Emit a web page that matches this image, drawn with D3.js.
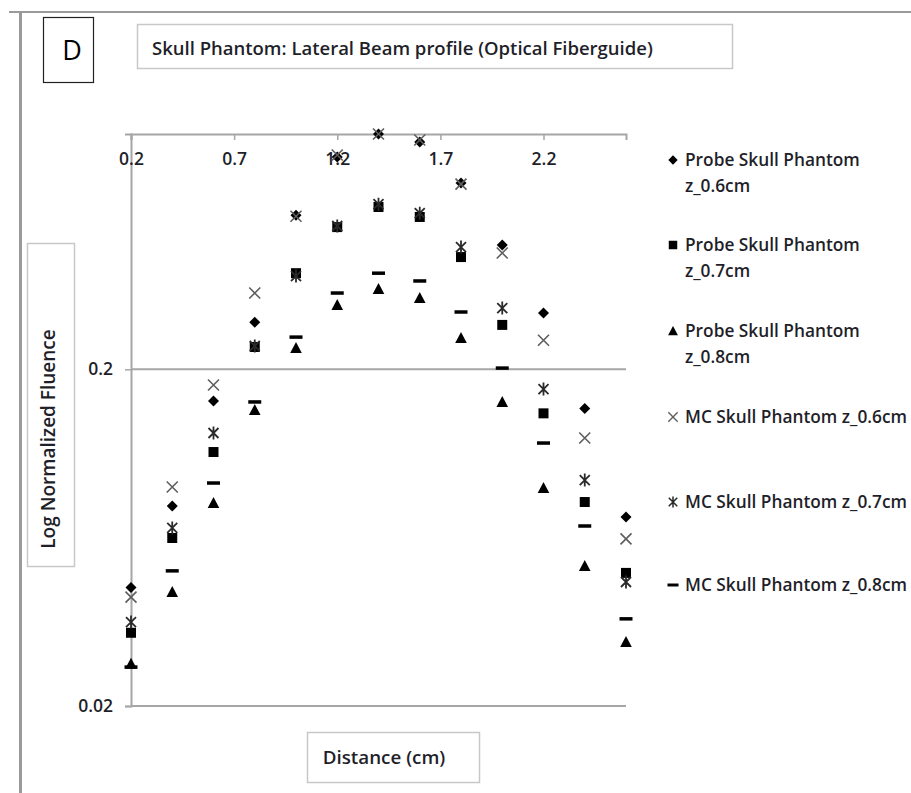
<!DOCTYPE html>
<html>
<head>
<meta charset="utf-8">
<script src="https://cdn.jsdelivr.net/npm/d3@7"></script>
<style>
  body { margin: 0; background: #fff; }
  text { font-family: "Open Sans", sans-serif; fill: #1f1f2a; }
</style>
</head>
<body>
<script>
// distances (cm)
const distance = [0.2, 0.4, 0.6, 0.8, 1.0, 1.2, 1.4, 1.6, 1.8, 2.0, 2.2, 2.4, 2.6];

// normalized fluence
const probe06 = [0.045, 0.0785, 0.161, 0.276, 0.574, 0.854, 1.0, 0.946, 0.715, 0.468, 0.294, 0.153, 0.0728];
const probe07 = [0.033, 0.0631, 0.1136, 0.233, 0.386, 0.529, 0.607, 0.567, 0.431, 0.271, 0.148, 0.0807, 0.0497];
const probe08 = [0.0267, 0.0436, 0.0801, 0.1514, 0.2313, 0.3105, 0.3463, 0.3257, 0.2477, 0.16, 0.0888, 0.0521, 0.031];
const mc06 = [0.0421, 0.0894, 0.1797, 0.337, 0.57, 0.866, 1.0, 0.96, 0.71, 0.443, 0.244, 0.125, 0.0627];
const mc07 = [0.0355, 0.0676, 0.1294, 0.2346, 0.3786, 0.533, 0.619, 0.582, 0.4615, 0.304, 0.1748, 0.0938, 0.0467];
const mc08 = [0.0261, 0.0504, 0.0919, 0.16, 0.2493, 0.337, 0.386, 0.366, 0.296, 0.2017, 0.1208, 0.0685, 0.0363];

const xTicks = [0.2, 0.7, 1.2, 1.7, 2.2];
const yTicks = [0.02, 0.2];

const seriesNames = [
  ["Probe Skull Phantom", "z_0.6cm"],
  ["Probe Skull Phantom", "z_0.7cm"],
  ["Probe Skull Phantom", "z_0.8cm"],
  ["MC Skull Phantom z_0.6cm"],
  ["MC Skull Phantom z_0.7cm"],
  ["MC Skull Phantom z_0.8cm"]
];
const seriesValues = [probe06, probe07, probe08, mc06, mc07, mc08];
const markerKind = ["diamond", "square", "triangle", "x", "star", "dash"];

const W = 911, H = 793;
const svg = d3.select("body").append("svg")
    .attr("width", W)
    .attr("height", H);

// outer frame bits (top and left border of the figure)
svg.append("line").attr("x1", 9).attr("x2", W).attr("y1", 12).attr("y2", 12)
    .attr("stroke", "#9a9a9a").attr("stroke-width", 2);
svg.append("line").attr("x1", 20.5).attr("x2", 20.5).attr("y1", 11).attr("y2", H)
    .attr("stroke", "#9a9a9a").attr("stroke-width", 3);

// panel letter
svg.append("rect").attr("x", 43.5).attr("y", 17.5).attr("width", 50).attr("height", 65)
    .attr("fill", "none").attr("stroke", "#222").attr("stroke-width", 1.2);
svg.append("text").attr("x", 72).attr("y", 60).attr("text-anchor", "middle")
    .style("font-size", "27px").style("fill", "#000").text("D");

// title box
svg.append("rect").attr("x", 137.5).attr("y", 24.5).attr("width", 595).attr("height", 44)
    .attr("fill", "none").attr("stroke", "#c8c8c8").attr("stroke-width", 1.5);
svg.append("text").attr("x", 152).attr("y", 55)
    .style("font-size", "18.5px").style("font-weight", 600)
    .text("Skull Phantom: Lateral Beam profile (Optical Fiberguide)");

// scales
const x = d3.scaleLinear().domain([0.2, 2.6]).range([131, 626]);
const y = d3.scaleLog().domain([0.02, 1]).range([706, 134]);

// gridline at 0.2 and bottom line at 0.02
svg.append("g").selectAll("line").data(yTicks).join("line")
    .attr("x1", x(0.2)).attr("x2", x(2.6))
    .attr("y1", d => y(d)).attr("y2", d => y(d))
    .attr("stroke", "#a6a6a6").attr("stroke-width", 2);

// y axis
const yAxis = svg.append("g")
    .attr("transform", "translate(" + x(0.2) + ",0)")
    .call(d3.axisLeft(y).tickValues(yTicks).tickSize(6).tickPadding(12)
        .tickFormat(d3.format("")));
yAxis.select(".domain").attr("stroke", "#a6a6a6").attr("stroke-width", 2);
yAxis.selectAll(".tick line").attr("stroke", "#a6a6a6").attr("stroke-width", 1.5);
yAxis.selectAll(".tick text").style("font-size", "17.5px").style("font-weight", 600)
    .style("font-family", "Open Sans").attr("fill", "#1f1f2a");

// x axis sits on top (log axis crosses at max)
const xAxis = svg.append("g")
    .attr("transform", "translate(0," + y(1) + ")")
    .call(d3.axisBottom(x).tickValues(xTicks).tickSizeOuter(0).tickSize(6).tickPadding(13)
        .tickFormat(d3.format(".1f")));
xAxis.select(".domain").attr("stroke", "#a6a6a6").attr("stroke-width", 2);
xAxis.selectAll(".tick line").attr("stroke", "#a6a6a6").attr("stroke-width", 1.5);
xAxis.selectAll(".tick text").style("font-size", "17.5px").style("font-weight", 600)
    .style("font-family", "Open Sans").attr("fill", "#1f1f2a");

// markers
function markerPath(kind) {
  if (kind === "diamond") return "M0,-5.5L5.5,0L0,5.5L-5.5,0Z";
  if (kind === "square") return "M-5,-5H5V5H-5Z";
  if (kind === "triangle") return "M0,-6L5.8,5H-5.8Z";
  if (kind === "x") return "M-5.5,-5.5L5.5,5.5M-5.5,5.5L5.5,-5.5";
  if (kind === "star") return "M-5,-5L5,5M-5,5L5,-5M0,-6.5V6.5";
  return "M-6.5,0H6.5";
}
function styleMarker(sel, kind) {
  if (kind === "x") {
    sel.attr("fill", "none").attr("stroke", "#5e5e5e").attr("stroke-width", 1.6);
  } else if (kind === "star") {
    sel.attr("fill", "none").attr("stroke", "#2a2a2a").attr("stroke-width", 1.8);
  } else if (kind === "dash") {
    sel.attr("fill", "none").attr("stroke", "#000").attr("stroke-width", 3.5);
  } else {
    sel.attr("fill", "#000").attr("stroke", "none");
  }
}

seriesValues.forEach((vals, i) => {
  const kind = markerKind[i];
  const pts = svg.append("g").selectAll("path")
      .data(vals.map((v, j) => [distance[j], v]))
      .join("path")
      .attr("transform", d => "translate(" + x(d[0]) + "," + y(d[1]) + ")")
      .attr("d", markerPath(kind));
  styleMarker(pts, kind);
});

// legend
const legendY = [160, 245, 331, 417, 502, 585];
const legend = svg.append("g");
seriesNames.forEach((lines, i) => {
  const g = legend.append("g").attr("transform", "translate(673," + legendY[i] + ")");
  const m = g.append("path").attr("d", markerPath(markerKind[i]))
      .attr("transform", "scale(0.85)");
  styleMarker(m, markerKind[i]);
  lines.forEach((t, k) => {
    g.append("text").attr("x", 12).attr("y", 6 + k * 26)
        .style("font-size", "17.3px").style("font-weight", 600)
        .text(t);
  });
});

// y axis title box
svg.append("rect").attr("x", 27.5).attr("y", 243.5).attr("width", 47).attr("height", 323)
    .attr("fill", "none").attr("stroke", "#c8c8c8").attr("stroke-width", 1.5);
svg.append("text")
    .attr("transform", "translate(55,439) rotate(-90)")
    .attr("text-anchor", "middle")
    .style("font-size", "19px").style("font-weight", 600)
    .text("Log Normalized Fluence");

// x axis title box
svg.append("rect").attr("x", 307.5).attr("y", 732.5).attr("width", 172).attr("height", 50)
    .attr("fill", "none").attr("stroke", "#c8c8c8").attr("stroke-width", 1.5);
svg.append("text").attr("x", 384).attr("y", 764).attr("text-anchor", "middle")
    .style("font-size", "18.8px").style("font-weight", 600)
    .text("Distance (cm)");
</script>
</body>
</html>
